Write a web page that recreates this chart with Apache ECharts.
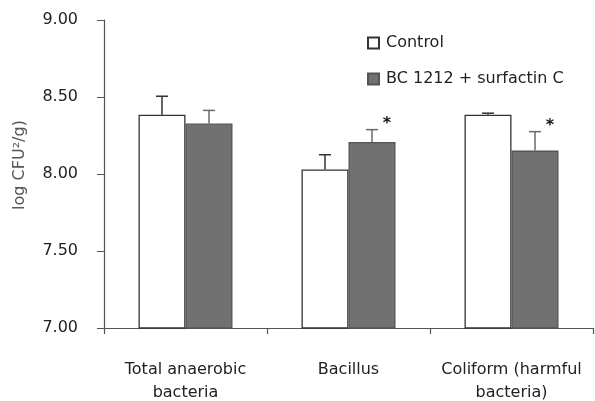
<!DOCTYPE html>
<html>
<head>
    <meta charset="utf-8">
    <script type="text/javascript" src="https://cdn.jsdelivr.net/npm/echarts@6/dist/echarts.min.js"></script>
    <title>log CFU</title>
</head>
<body style="margin:0;background:#fff;">
    <div id="container" style="width:595px;height:401px;"></div>
    <script type="text/javascript">
    // data
    var categories = ['Total anaerobic\nbacteria', 'Bacillus', 'Coliform (harmful\nbacteria)'];
    var controlMean = [8.385, 8.03, 8.385];
    var controlErr = [0.12, 0.095, 0.01];
    var treatMean = [8.328, 8.208, 8.152];
    var treatErr = [0.085, 0.08, 0.123];
    var significant = [false, true, true];
    var yTicks = [7, 9, 0.5]; // min, max, interval

    var myChart = echarts.init(document.getElementById('container'));
    var BAR_W = 47;

    // error bar (upward only) + optional asterisk
    function errRender(means, errs, side, color, marks) {
        return function (params, api) {
            var i = api.value(0);
            var top = api.coord([i, means[i] + errs[i]]);
            var base = api.coord([i, means[i]]);
            var x = top[0] + side * BAR_W / 2;
            var kids = [
                { type: 'line', shape: { x1: x, y1: base[1], x2: x, y2: top[1] }, style: { stroke: color, lineWidth: 1.5 } },
                { type: 'line', shape: { x1: x - 6, y1: top[1], x2: x + 6, y2: top[1] }, style: { stroke: color, lineWidth: 1.5 } }
            ];
            if (marks && marks[i]) {
                kids.push({ type: 'text', style: { text: '*', x: x + 15, y: top[1] - 6, fill: '#111', font: 'bold 16px "DejaVu Sans"', align: 'center', verticalAlign: 'middle' } });
            }
            return { type: 'group', children: kids };
        };
    }

    var option = {
        backgroundColor: '#fff',
        animation: false,
        textStyle: { fontFamily: 'DejaVu Sans' },
        grid: { left: 104, right: 2, top: 20, bottom: 73, outerBoundsMode: 'none', containLabel: false },
        legend: {
            orient: 'vertical',
            left: 362,
            top: 30,
            itemWidth: 11,
            itemHeight: 11,
            itemGap: 20,
            icon: 'rect',
            textStyle: { fontSize: 16, color: '#222', fontFamily: 'DejaVu Sans', padding: [0, 0, 0, 2] },
            data: ['Control', 'BC 1212 + surfactin C']
        },
        xAxis: {
            type: 'category',
            data: categories,
            axisLine: { lineStyle: { color: '#555', width: 1.2 } },
            axisTick: { show: true, alignWithLabel: false, length: 6, lineStyle: { color: '#555', width: 1.2 } },
            axisLabel: { fontSize: 16, color: '#222', lineHeight: 23, margin: 30, verticalAlign: 'top', interval: 0 }
        },
        yAxis: {
            type: 'value',
            min: yTicks[0],
            max: yTicks[1],
            interval: yTicks[2],
            name: 'log CFU\u00b2/g)',
            nameLocation: 'middle',
            nameGap: 76,
            nameTextStyle: { fontSize: 16, color: '#555', fontFamily: 'DejaVu Sans', padding: [0, 0, 0, 18] },
            splitLine: { show: false },
            axisLine: { show: true, lineStyle: { color: '#555', width: 1.2 } },
            axisTick: { show: true, length: 7, lineStyle: { color: '#555' } },
            axisLabel: { fontSize: 16, color: '#222', margin: 26, formatter: function (v) { return v.toFixed(2); } }
        },
        series: [{
            name: 'Control',
            type: 'bar',
            data: controlMean,
            barWidth: BAR_W,
            barGap: '0%',
            itemStyle: { color: '#ffffff', borderColor: '#333', borderWidth: 1.3 }
        }, {
            name: 'BC 1212 + surfactin C',
            type: 'bar',
            data: treatMean,
            barWidth: BAR_W,
            itemStyle: { color: '#717171', borderColor: '#555', borderWidth: 1.3 }
        }, {
            type: 'custom',
            data: [0, 1, 2],
            z: 5,
            renderItem: errRender(controlMean, controlErr, -1, '#333', null)
        }, {
            type: 'custom',
            data: [0, 1, 2],
            z: 5,
            renderItem: errRender(treatMean, treatErr, 1, '#6a6a6a', significant)
        }]
    };

    myChart.setOption(option);
    </script>
</body>
</html>
